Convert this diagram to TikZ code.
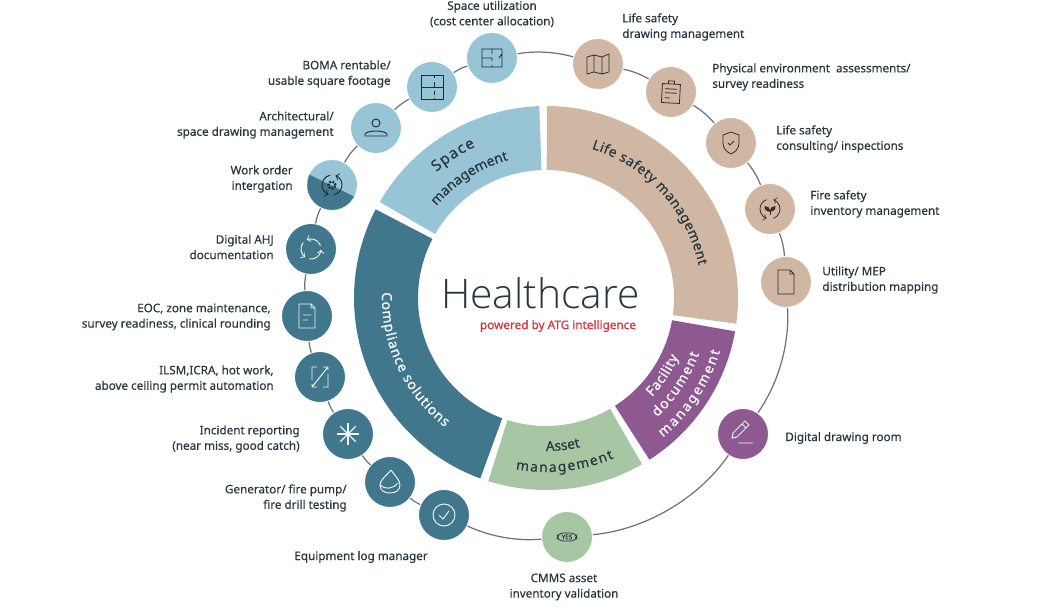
\documentclass[tikz,border=0pt]{standalone}
\usepackage{fontspec}
\usetikzlibrary{decorations.text}
\setmainfont[FakeBold=0.5]{Noto Sans}
\newfontfamily\lightface{Open Sans Light}
\definecolor{spaceblue}{HTML}{97C5D5}
\definecolor{sandtan}{HTML}{D0B7A3}
\definecolor{deepteal}{HTML}{40778D}
\definecolor{sagegreen}{HTML}{A6C6A4}
\definecolor{plum}{HTML}{8E5890}
\definecolor{alertred}{HTML}{CE3540}
\definecolor{inktext}{HTML}{2B3740}
\definecolor{ringgrey}{HTML}{6F7376}
\newcommand{\ringwedge}[3]{\fill[#1] (#2:192) arc[start angle=#2,end angle=#3,radius=192] -- (#3:128) arc[start angle=#3,end angle=#2,radius=128] -- cycle;}
\newcommand{\ringlabel}[6][7.8]{\path[decorate,decoration={text along path,text align={fit to path},text={|\fontsize{#1}{10}\selectfont\color{#2}|#6}}] (#4:#3) arc[start angle=#4,end angle=#5,radius=#3];}
\tikzset{
  spot/.style={circle,minimum size=1.02cm,inner sep=0pt,draw=white,line width=0.5pt},
  ringline/.style={draw=ringgrey,line width=0.7pt,looseness=0.85},
  lbl/.style={font=\fontsize{6.65}{8.8}\selectfont,text=inktext,inner sep=0pt,yshift=-0.2mm},
  lblr/.style={lbl,anchor=east,align=right},
  lbll/.style={lbl,anchor=west,align=left},
  lblc/.style={lbl,align=center},
  inkblue/.style={color=black!60!deepteal,line width=0.55pt},
  inkbrown/.style={color=black!75!sandtan,line width=0.45pt},
  inkpale/.style={color=white!85!spaceblue,line width=0.55pt},
  mapicon/.pic={\draw (-11,7) -- (-4,9) -- (4,7) -- (11,10) -- (11,-8) -- (4,-10) -- (-4,-8) -- (-11,-10) -- cycle (-4,9) -- (-4,-8) (4,7) -- (4,-10);},
  clipicon/.pic={\draw[rotate=-3] (-9,-11) rectangle (9,8) (-3,8) -- (-3,11) -- (3,11) -- (3,8) (-6,3) -- (6,3) (-6,-1) -- (6,-1) (-6,-6) -- (-1,-6);},
  shieldicon/.pic={\draw (0,11) -- (8,8) -- (8,0) .. controls (8,-6) and (4,-9) .. (0,-11) .. controls (-4,-9) and (-8,-6) .. (-8,0) -- (-8,8) -- cycle (-3,0) -- (-1,-2) -- (3,2);},
  sprouticon/.pic={\draw[->] (110:10) arc[start angle=110,end angle=250,radius=10];\draw[->] (290:10) arc[start angle=290,end angle=430,radius=10];
    \fill (0,-3) .. controls (-6,-2) and (-6,2) .. (-5,3) .. controls (-2,3) and (0,1) .. (0,-3) .. controls (0,1) and (2,3) .. (5,3) .. controls (6,2) and (6,-2) .. (0,-3);\draw (0,-3) -- (0,-6);},
  sheeticon/.pic={\draw (-8,12) -- (4,12) -- (8,8) -- (8,-12) -- (-8,-12) -- cycle (4,12) -- (4,8) -- (8,8);},
  pencilicon/.pic={\draw (-11,-4) -- (-10,1) -- (2,13) -- (6,9) -- (-6,-3) -- cycle (-1,10) -- (3,6) (-5,-9) -- (10,-9);},
  tickicon/.pic={\draw (0,0) circle[radius=11] (-5,0) -- (-1,-4) -- (5,4);},
  dropicon/.pic={\draw (1,12) .. controls (-4,6) and (-10,2) .. (-10,-3) .. controls (-10,-9) and (-5,-11) .. (0,-11) .. controls (6,-11) and (10,-8) .. (10,-3) .. controls (10,2) and (5,6) .. (1,12) (-10,-3) .. controls (-5,-8) and (3,-7) .. (8,-1);},
  staricon/.pic={\foreach \spokeang in {0,45,90,135}{\draw[line width=0.7pt] (\spokeang:11) -- (\spokeang+180:11);}\fill (0,0) circle[radius=2];},
  swapicon/.pic={\draw (-3,10) -- (-8,10) -- (-8,-3) (3,-10) -- (8,-10) -- (8,3) (-8,-10) -- (8,10) (-8,-10) -- (-8,-7) (-8,-10) -- (-3,-10) (8,10) -- (8,7) (8,10) -- (3,10);},
  noteicon/.pic={\draw (-8,12) -- (4,12) -- (8,8) -- (8,-12) -- (-8,-12) -- cycle (4,12) -- (4,8) -- (8,8) (-4,1) -- (4,1) (-4,-4) -- (1,-4);},
  cycleicon/.pic={\foreach \arcang in {20,140,260}{\draw[->] (\arcang:10) arc[start angle=\arcang,end angle=\arcang+95,radius=10];}},
  gearicon/.pic={\draw[->] (100:10) arc[start angle=100,end angle=250,radius=10];\draw[->] (280:10) arc[start angle=280,end angle=430,radius=10];\draw[line width=1.3pt,dash pattern=on 1pt off 0.8pt] (0,0) circle[radius=3.5];},
  personicon/.pic={\draw (0,5) circle[radius=4] (-11,-8) -- (11,-8) -- (11,-6) .. controls (8,-2) and (-8,-2) .. (-11,-6) -- cycle;},
  planicon/.pic={\draw (-11,-12) rectangle (11,12) (-11,0) -- (11,0) (2,12) -- (2,9) (2,5) -- (2,0) (2,-4) -- (2,-8) (2,-11) -- (2,-12);},
  roomicon/.pic={\draw (-10,-9) rectangle (10,9) (0,9) -- (0,4) (0,0) -- (0,-3) (0,-7) -- (0,-9) (-10,0) -- (0,0) (10,4) -- (7,0);},
}
\begin{document}
\begin{tikzpicture}[x=0.02cm,y=0.02cm]
\useasboundingbox (0,0) rectangle (1063,611);

% centre ring
\begin{scope}[shift={(546,313)}]
\ringwedge{spaceblue}{92}{150}
\ringwedge{sandtan}{-7.7}{89.7}
\ringwedge{deepteal}{152.5}{250}
\ringwedge{sagegreen}{252.5}{300}
\ringwedge{plum}{302.6}{350}
\ringlabel[8.6]{inktext}{167}{131}{115}{Space}
\ringlabel{inktext}{143}{140}{106}{management}
\ringlabel{inktext}{156}{73}{12}{Life safety management}
\ringlabel{white}{164}{178}{232}{Compliance solutions}
\ringlabel{inktext}{153}{270}{283}{Asset}
\ringlabel{inktext}{174}{260}{293}{management}
\ringlabel{white}{145}{317}{336}{Facility}
\ringlabel{white}{163}{313}{340}{document}
\ringlabel{white}{182}{310}{343}{management}
\end{scope}

\node[font=\lightface\fontsize{23.2}{28}\selectfont,text=inktext,inner sep=0pt] (title) at (540.5,318) {Healthcare};
\node[font=\fontsize{6.7}{8.8}\selectfont,text=alertred,inner sep=0pt] (subtitle) at (558,285) {powered by ATG intelligence};

% outer spots
\node[spot,fill=spaceblue] (util) at (492,553) {};
\node[spot,fill=sandtan] (map) at (598,547) {};
\node[spot,fill=sandtan] (clip) at (671,519) {};
\node[spot,fill=sandtan] (shield) at (731,468) {};
\node[spot,fill=sandtan] (sprout) at (770,402) {};
\node[spot,fill=sandtan] (sheet) at (786,329) {};
\node[spot,fill=plum] (pencil) at (743,177) {};
\node[spot,fill=sagegreen] (yes) at (567,74) {};
\node[spot,fill=deepteal] (tick) at (444,96) {};
\node[spot,fill=deepteal] (drop) at (390,129) {};
\node[spot,fill=deepteal] (star) at (348,177) {};
\node[spot,fill=deepteal] (swap) at (320,234) {};
\node[spot,fill=deepteal] (note) at (307,295) {};
\node[spot,fill=deepteal] (recycle) at (311,362) {};
\node[spot,fill=spaceblue,path picture={\fill[deepteal] (-24,11) -- (23,-12) -- (26,-26) -- (-26,-26) -- cycle;}] (gear) at (332,426) {};
\node[spot,fill=spaceblue] (person) at (376,483) {};
\node[spot,fill=spaceblue] (plan) at (432,524) {};

\foreach \from/\to/\bendang in {util/map/12.7,map/clip/9.4,clip/shield/9.5,shield/sprout/9.2,sprout/sheet/9,sheet/pencil/19.2,pencil/yes/25.2,yes/tick/15,tick/drop/7.5,drop/star/7.6,star/swap/7.6,swap/note/7.5,note/recycle/8,recycle/gear/8,gear/person/8.6,person/plan/8.3,plan/util/7.8}
  \draw[ringline] (\from) to[bend left=\bendang] (\to);

% icons
\pic[inkblue] at (util) {roomicon};
\pic[inkbrown] at (map) {mapicon};
\pic[inkbrown] at (clip) {clipicon};
\pic[inkbrown] at (shield) {shieldicon};
\pic[inkbrown] at (sprout) {sprouticon};
\pic[inkbrown] at (sheet) {sheeticon};
\pic[inkpale] at (pencil) {pencilicon};
\node[draw=inktext,rounded corners=3pt,line width=0.45pt,font=\fontsize{3.6}{4}\selectfont,text=inktext,inner xsep=2.5pt,inner ysep=1pt] (yestag) at (yes) {YES};
\pic[inkpale] at (tick) {tickicon};
\pic[inkpale] at (drop) {dropicon};
\pic[inkpale] at (star) {staricon};
\pic[inkpale] at (swap) {swapicon};
\pic[inkpale] at (note) {noteicon};
\pic[inkpale] at (recycle) {cycleicon};
\pic[inkblue] at (gear) {gearicon};
\pic[inkblue] at (person) {personicon};
\pic[inkblue] at (plan) {planicon};

% labels
\node[lblc] (lutil) at (492,598) {Space utilization\\(cost center allocation)};
\node[lblr] (lplan) at (391,538) {BOMA rentable/\\usable square footage};
\node[lblr] (lperson) at (334,487) {Architectural/\\space drawing management};
\node[lblr] (lgear) at (293,433) {Work order\\intergation};
\node[lblr] (lrecycle) at (274,365) {Digital AHJ\\documentation};
\node[lblr] (lnote) at (271,295) {EOC, zone maintenance,\\survey readiness, clinical rounding};
\node[lblr] (lswap) at (274,233) {ILSM,ICRA, hot work,\\above ceiling permit automation};
\node[lblr] (lstar) at (300,173) {Incident reporting\\(near miss, good catch)};
\node[lblr] (ldrop) at (347,114) {Generator/ fire pump/\\fire drill testing};
\node[lblr] (ltick) at (428,55) {Equipment log manager};
\node[lblc] (lyes) at (564,25) {CMMS asset\\inventory validation};
\node[lbll] (lpencil) at (785,174) {Digital drawing room};
\node[lbll] (lsheet) at (822,332) {Utility/ MEP\\distribution mapping};
\node[lbll] (lsprout) at (810,408) {Fire safety\\inventory management};
\node[lbll] (lshield) at (776,473) {Life safety\\consulting/ inspections};
\node[lbll] (lclip) at (712,535) {Physical environment\ \ assessments/\\survey readiness};
\node[lbll] (lmap) at (622,585) {Life safety\\drawing management};
\end{tikzpicture}
\end{document}
